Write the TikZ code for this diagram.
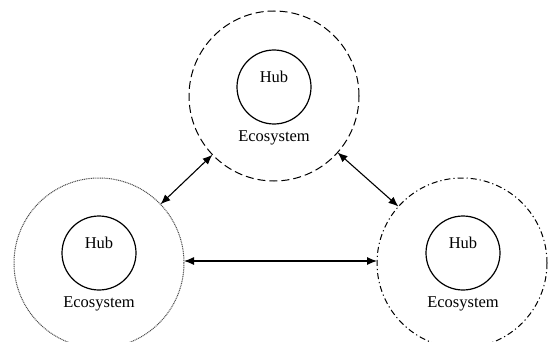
\documentclass[tikz,border=0pt]{standalone}
\usepackage{fontspec}
\setmainfont{Liberation Serif}
\usetikzlibrary{arrows.meta}
\begin{document}
\begin{tikzpicture}[x=1pt,y=-1pt,
  eco/.style={circle,draw,minimum size=170pt,inner sep=0pt,outer sep=0pt,line width=1pt},
  hubc/.style={circle,draw,minimum size=74pt,inner sep=0pt,outer sep=0pt,line width=1.2pt},
  lbl/.style={font=\fontsize{16.5}{18}\selectfont,inner sep=0pt},
  link/.style={{Latex[length=10pt,width=8pt]}-{Latex[length=10pt,width=8pt]},line width=1.1pt}]
\useasboundingbox (0,0) rectangle (548,342);
% ecosystems
\node[eco,dash pattern=on 8pt off 4pt] (top) at (274,96) {};
\node[eco,draw=black!70,dash pattern=on 1pt off 0.8pt] (left) at (99,263) {};
\node[eco,dash pattern=on 6pt off 3pt on 1.2pt off 3pt] (right) at (462,263) {};
% hubs
\node[hubc] (tophub) at (274,87) {};
\node[hubc] (lefthub) at (99,253) {};
\node[hubc] (righthub) at (463,253) {};
% texts
\node[lbl] (tophubt) at (274,77) {Hub};
\node[lbl] (lefthubt) at (99,243) {Hub};
\node[lbl] (righthubt) at (463,243) {Hub};
\node[lbl] (topeco) at (274,138) {Ecosystem};
\node[lbl] (lefteco) at (99,304) {Ecosystem};
\node[lbl] (righteco) at (463,304) {Ecosystem};
% links
\draw[link] (top) -- (left);
\draw[link] (top) -- (right);
\draw[link] (left.east |- 0,261) -- (right.west |- 0,261);
\end{tikzpicture}
\end{document}
